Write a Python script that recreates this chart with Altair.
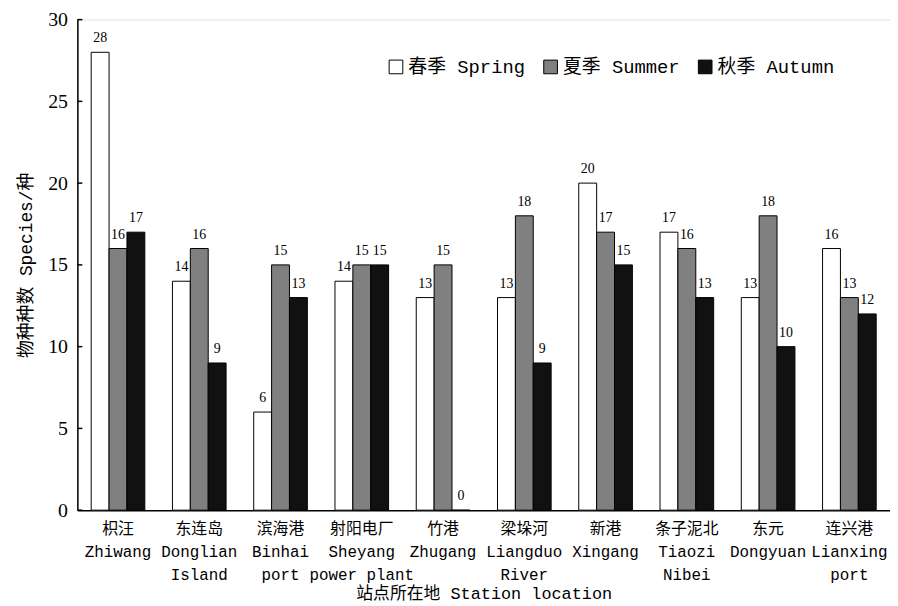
import altair as alt
import pandas as pd

stations = ["枳汪|Zhiwang", "东连岛|Donglian|Island", "滨海港|Binhai|port",
            "射阳电厂|Sheyang|power plant", "竹港|Zhugang", "梁垛河|Liangduo|River",
            "新港|Xingang", "条子泥北|Tiaozi|Nibei", "东元|Dongyuan", "连兴港|Lianxing|port"]
seasons = ["春季 Spring", "夏季 Summer", "秋季 Autumn"]
spring = [28, 14, 6, 14, 13, 13, 20, 17, 13, 16]
summer = [16, 16, 15, 15, 15, 18, 17, 16, 18, 13]
autumn = [17, 9, 13, 15, 0, 9, 15, 13, 10, 12]
y_ticks = [0, 5, 10, 15, 20, 25, 30]
colors = ["white", "#808080", "#111111"]

rows = []
for s, vals in zip(seasons, [spring, summer, autumn]):
    for st, v in zip(stations, vals):
        rows.append({"station": st, "season": s, "value": v})
df = pd.DataFrame(rows)

MONO = "'Liberation Mono', 'Noto Sans CJK SC'"
SERIF = "'Liberation Serif', 'Times New Roman'"

x_enc = alt.X("station:N", sort=stations,
              scale=alt.Scale(paddingInner=0.34, paddingOuter=0.17),
              axis=alt.Axis(title="站点所在地 Station location",
                            labelExpr="split(datum.label, '|')",
                            labelAngle=0, ticks=False, tickSize=0,
                            domainColor="black", domainWidth=1.5,
                            labelFont=MONO, labelFontSize=16, labelColor="black",
                            labelLineHeight=23, labelPadding=11,
                            titleFont=MONO, titleFontSize=17, titleFontWeight="normal",
                            titleColor="black", titlePadding=3))
xo_enc = alt.XOffset("season:N", sort=seasons)
y_enc = alt.Y("value:Q", scale=alt.Scale(domain=[0, 30]),
              axis=alt.Axis(values=y_ticks, ticks=False, tickSize=0, grid=False,
                            domainColor="black", domainWidth=1.5,
                            title="物种种数 Species/种",
                            labelFont=SERIF, labelFontSize=20, labelColor="black",
                            labelPadding=10,
                            titleFont=MONO, titleFontSize=18, titleFontWeight="normal",
                            titleColor="black", titlePadding=12))

bars = alt.Chart(df).mark_bar(stroke="black", strokeWidth=1).encode(
    x=x_enc, xOffset=xo_enc, y=y_enc,
    fill=alt.Fill("season:N", sort=seasons,
                  scale=alt.Scale(domain=seasons, range=colors),
                  legend=alt.Legend(title=None, orient="none", legendX=312, legendY=38,
                                    direction="horizontal", symbolType="square",
                                    symbolSize=190, symbolStrokeColor="black",
                                    symbolStrokeWidth=1, labelFont=MONO,
                                    labelFontSize=19, labelColor="black",
                                    labelOffset=3, columnPadding=16, labelLimit=300))
)

labels = alt.Chart(df).mark_text(dy=-7, baseline="bottom", font=SERIF,
                                 fontSize=14, color="black").encode(
    x=alt.X("station:N", sort=stations), xOffset=xo_enc,
    y=alt.Y("value:Q"), text=alt.Text("value:Q")
)

ticks = alt.Chart(pd.DataFrame({"t": y_ticks})).mark_rule(
    color="black", strokeWidth=1.5).encode(
    y=alt.Y("t:Q"), x=alt.value(0), x2=alt.value(5)
)

chart = alt.layer(bars, labels, ticks).properties(
    width=820, height=495,
    autosize=alt.AutoSizeParams(type="none"),
    padding={"left": 70, "top": 9, "right": 0, "bottom": 94},
).configure_view(stroke=None).configure(background="white")

chart.save("out.html", embed_options={"renderer": "svg", "actions": False})
